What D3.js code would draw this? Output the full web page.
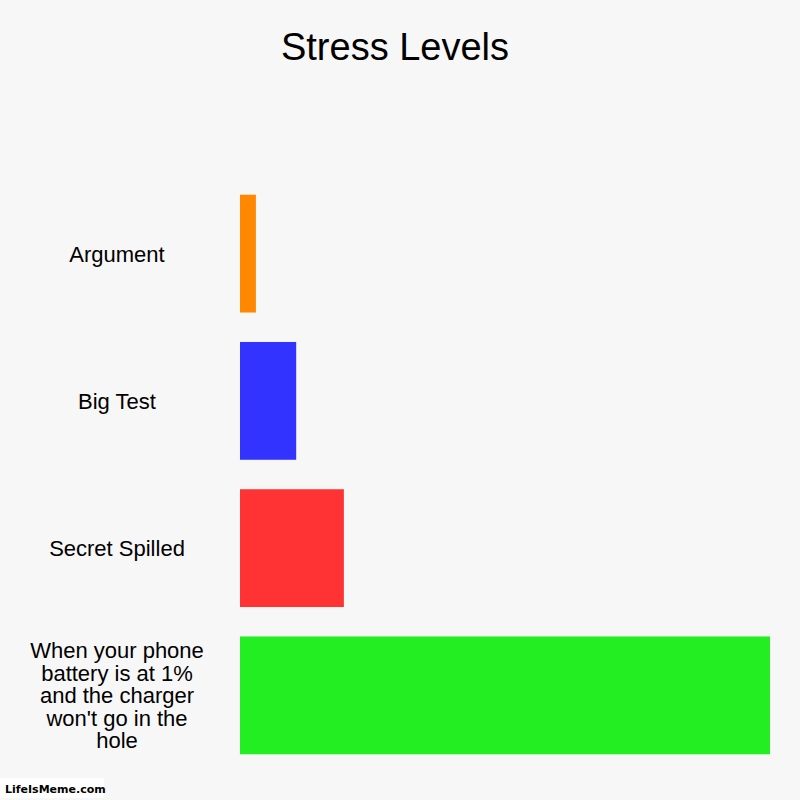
<!DOCTYPE html>
<html>
<head>
<meta charset="utf-8">
<script src="https://cdn.jsdelivr.net/npm/d3@7"></script>
<style>
  html, body { margin: 0; padding: 0; background: #f7f7f7; }
  svg { display: block; }
</style>
</head>
<body>
<svg id="chart" width="800" height="800"></svg>
<script>
// chart data
const categories = ['Argument', 'Big Test', 'Secret Spilled', "When your phone battery is at 1% and the charger won't go in the hole"];
const values = [3, 10.6, 19.6, 100];
const colors = ['#ff8800', '#3333ff', '#ff3333', '#22ee22'];
const title = 'Stress Levels';

const svg = d3.select('#chart');
svg.append('rect').attr('width', 800).attr('height', 800).attr('fill', '#f7f7f7');

const x = d3.scaleLinear().domain([0, 100]).range([240, 770]);
const y = d3.scaleBand()
  .domain(categories)
  .range([180, 769])
  .paddingInner(0.2)
  .paddingOuter(0.1);

svg.append('text')
  .attr('x', 395).attr('y', 60)
  .attr('text-anchor', 'middle')
  .style('font-family', 'Liberation Sans, Arial, sans-serif')
  .style('font-size', '38px')
  .attr('fill', '#000')
  .text(title);

svg.selectAll('rect.bar')
  .data(categories)
  .enter()
  .append('rect')
  .attr('class', 'bar')
  .attr('x', x(0))
  .attr('y', d => y(d))
  .attr('width', (d, i) => x(values[i]) - x(0))
  .attr('height', y.bandwidth())
  .attr('fill', (d, i) => colors[i]);

// category labels, wrapped to fit the left column
const labelFont = '22px Liberation Sans, Arial, sans-serif';
const ctx = document.createElement('canvas').getContext('2d');
ctx.font = labelFont;
function wrap(str, maxW) {
  const words = str.split(' ');
  const lines = [];
  let line = '';
  words.forEach(w => {
    const test = line ? line + ' ' + w : w;
    if (ctx.measureText(test).width > maxW && line) {
      lines.push(line);
      line = w;
    } else {
      line = test;
    }
  });
  if (line) lines.push(line);
  return lines;
}

const lineH = 22.5;
categories.forEach(c => {
  const lines = wrap(c, 180);
  const cy = y(c) + y.bandwidth() / 2;
  const t = svg.append('text')
    .attr('text-anchor', 'middle')
    .style('font-family', 'Liberation Sans, Arial, sans-serif')
    .style('font-size', '22px')
    .attr('fill', '#000');
  lines.forEach((l, i) => {
    t.append('tspan')
      .attr('x', 117)
      .attr('y', cy + (i - (lines.length - 1) / 2) * lineH + 8)
      .text(l);
  });
});

// watermark
svg.append('rect')
  .attr('x', 0).attr('y', 778).attr('width', 104).attr('height', 20)
  .attr('fill', '#fff');
svg.append('text')
  .attr('x', 5).attr('y', 793)
  .style('font-family', 'DejaVu Sans, sans-serif')
  .style('font-size', '11px')
  .style('font-weight', 'bold')
  .attr('fill', '#000')
  .text('LifeIsMeme.com');
</script>
</body>
</html>
